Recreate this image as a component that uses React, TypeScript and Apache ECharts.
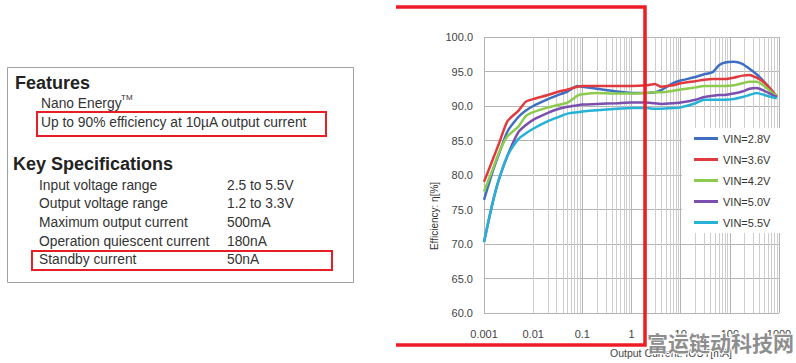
import React, { useEffect, useRef } from "react";
import * as echarts from "echarts";

const currents = [0.001, 0.0015, 0.002, 0.003, 0.005, 0.007, 0.01, 0.02, 0.03, 0.05, 0.08, 0.1, 0.2, 0.5, 1, 2, 3, 4, 7, 10, 20, 30, 45, 60, 80, 120, 180, 250, 350, 500, 700, 900];
const vin28 = [76.4, 80.5, 83.0, 86.3, 88.4, 89.3, 90.0, 91.0, 91.5, 92.1, 92.9, 92.8, 92.5, 92.1, 91.9, 91.9, 92.0, 92.3, 93.3, 93.7, 94.2, 94.6, 94.9, 95.9, 96.3, 96.4, 96.1, 95.4, 94.6, 93.5, 92.3, 91.3];
const vin36 = [79.0, 82.2, 84.5, 87.8, 89.3, 90.6, 91.0, 91.6, 92.0, 92.4, 92.8, 92.9, 92.9, 92.9, 92.9, 93.0, 93.2, 92.8, 93.0, 93.3, 93.6, 93.8, 93.9, 93.9, 93.9, 94.1, 94.4, 94.5, 94.1, 93.4, 92.3, 91.4];
const vin42 = [77.6, 80.8, 83.2, 85.6, 87.0, 88.5, 89.1, 89.8, 90.1, 90.5, 91.5, 91.7, 91.9, 91.8, 91.8, 91.9, 92.0, 92.0, 92.2, 92.4, 92.7, 92.9, 92.9, 92.9, 92.9, 93.0, 93.3, 93.5, 93.5, 92.9, 92.0, 91.5];
const vin50 = [70.3, 76.0, 79.3, 82.8, 86.2, 87.2, 88.0, 89.0, 89.5, 89.9, 90.1, 90.2, 90.3, 90.4, 90.5, 90.5, 90.4, 90.3, 90.4, 90.5, 90.9, 91.3, 91.5, 91.6, 91.6, 91.8, 92.1, 92.5, 92.6, 92.2, 91.7, 91.3];
const vin55 = [70.3, 76.0, 79.3, 82.8, 85.2, 86.0, 86.7, 87.8, 88.3, 88.9, 89.1, 89.2, 89.4, 89.6, 89.7, 89.7, 89.6, 89.6, 89.7, 89.8, 90.4, 90.9, 90.9, 90.9, 90.9, 91.0, 91.3, 91.6, 91.9, 91.6, 91.3, 91.1];

const seriesNames = ["VIN=2.8V", "VIN=3.6V", "VIN=4.2V", "VIN=5.0V", "VIN=5.5V"];
const seriesValues = [vin28, vin36, vin42, vin50, vin55];
const seriesColors = ["#3f6fc2", "#e03a3e", "#8ccb4e", "#7a4fae", "#25b2d6"];

const decades = [0.001, 0.01, 0.1, 1, 10, 100];
const minorSteps = [2, 3, 4, 5, 6, 7, 8, 9];

const featureLines = ["Nano Energy", "Up to 90% efficiency at 10µA output current"];
const specLabels = ["Input voltage range", "Output voltage range", "Maximum output current", "Operation quiescent current", "Standby current"];
const specValues = ["2.5 to 5.5V", "1.2 to 3.3V", "500mA", "180nA", "50nA"];

export default function App() {
  const ref = useRef<HTMLDivElement>(null);
  useEffect(() => {
    document.body.style.margin = "0";
    const chart = echarts.init(ref.current!, null, { renderer: "svg" });
    const FONT = '"Liberation Sans", Arial, sans-serif';
    const minorXs: number[] = [];
    decades.forEach((d) => minorSteps.forEach((s) => minorXs.push(+(d * s).toPrecision(3))));

    const textColor = "#333";
    const red = "#e61e26";
    const specYs = [185, 203, 222, 241, 259];

    const graphic: any[] = [
      { type: "rect", z: 1, shape: { x: 7.5, y: 67.5, width: 346, height: 215 }, style: { fill: "#fff", stroke: "#a0a0a0", lineWidth: 1 } },
      { type: "text", z: 2, x: 15, y: 83, style: { text: "Features", font: `bold 18px ${FONT}`, fill: "#222", verticalAlign: "middle" } },
      { type: "text", z: 2, x: 41, y: 103, style: { text: featureLines[0], font: `13.8px ${FONT}`, fill: textColor, verticalAlign: "middle" } },
      { type: "text", z: 2, x: 121, y: 97, style: { text: "TM", font: `8px ${FONT}`, fill: textColor, verticalAlign: "middle" } },
      { type: "text", z: 2, x: 41, y: 122, style: { text: featureLines[1], font: `13.8px ${FONT}`, fill: textColor, verticalAlign: "middle" } },
      { type: "rect", z: 3, shape: { x: 37, y: 112, width: 289, height: 24 }, style: { fill: "none", stroke: red, lineWidth: 2 } },
      { type: "text", z: 2, x: 13, y: 164, style: { text: "Key Specifications", font: `bold 18px ${FONT}`, fill: "#222", verticalAlign: "middle" } },
      ...specLabels.map((t, i) => ({ type: "text", z: 2, x: 39, y: specYs[i], style: { text: t, font: `13.8px ${FONT}`, fill: textColor, verticalAlign: "middle" } })),
      ...specValues.map((t, i) => ({ type: "text", z: 2, x: 227, y: specYs[i], style: { text: t, font: `13.8px ${FONT}`, fill: textColor, verticalAlign: "middle" } })),
      { type: "rect", z: 3, shape: { x: 32, y: 251, width: 300, height: 19 }, style: { fill: "none", stroke: red, lineWidth: 2 } },
      { type: "text", z: 5, x: 434, y: 216, rotation: Math.PI / 2, style: { text: "Efficiency: η[%]", font: `10px ${FONT}`, fill: "#333", align: "center", verticalAlign: "middle" } },
      { type: "text", z: 5, x: 610, y: 353, style: { text: "Output Current: IOUT[mA]", font: `10.5px ${FONT}`, fill: "#444", verticalAlign: "middle" } },
      { type: "polyline", z: 50, shape: { points: [[396, 7], [645, 7], [645, 345], [396, 345]] }, style: { fill: "none", stroke: "#ee1c25", lineWidth: 3.5 } },
      { type: "text", z: 60, x: 647, y: 342, style: { text: "富运链动科技网", font: `bold 21px "Noto Sans CJK SC"`, fill: "#8e8e8e", stroke: "#ffffff", lineWidth: 2, verticalAlign: "middle" } },
    ];

    const option: any = {
      animation: false,
      backgroundColor: "#fff",
      textStyle: { fontFamily: FONT },
      grid: { left: 484, top: 37, right: 17, bottom: 50 },
      xAxis: {
        type: "log",
        logBase: 10,
        min: 0.001,
        max: 1000,
        axisLine: { show: false },
        axisTick: { show: false },
        axisLabel: { color: "#444", fontSize: 11, margin: 15, formatter: (v: number) => String(+v.toPrecision(1)) },
        splitLine: { show: true, lineStyle: { color: "#b4b4b4", width: 1 } },
      },
      yAxis: {
        type: "value",
        min: 60,
        max: 100,
        interval: 5,
        axisLine: { show: false },
        axisTick: { show: false },
        axisLabel: { color: "#444", fontSize: 11, margin: 11, formatter: (v: number) => v.toFixed(1) },
        splitLine: { show: true, lineStyle: { color: "#b4b4b4", width: 1 } },
      },
      legend: {
        data: seriesNames,
        orient: "vertical",
        left: 682,
        top: 128,
        backgroundColor: "#fff",
        padding: [0, 10, 0, 12],
        itemGap: 0,
        itemWidth: 24,
        itemHeight: 3,
        icon: "rect",
        textStyle: { color: "#333", fontSize: 11, lineHeight: 21, fontFamily: FONT },
        z: 10,
      },
      graphic,
      series: [
        {
          type: "line",
          name: "minor",
          z: 1,
          data: [[0.001, 60]],
          symbol: "none",
          lineStyle: { width: 0 },
          silent: true,
          markLine: {
            z: 1,
            silent: true,
            symbol: "none",
            label: { show: false },
            lineStyle: { color: "#cdcdcd", width: 1, type: "solid" },
            data: minorXs.map((v) => ({ xAxis: v })),
          },
        },
        ...seriesNames.map((name, i) => ({
          type: "line",
          name,
          z: 3,
          data: currents.map((c, j) => [c, seriesValues[i][j]]),
          symbol: "none",
          smooth: 0.2,
          color: seriesColors[i],
          lineStyle: { width: 2.5, color: seriesColors[i] },
        })),
      ],
    };
    chart.setOption(option);
    return () => chart.dispose();
  }, []);
  return <div ref={ref} style={{ width: 796, height: 363 }} />;
}
